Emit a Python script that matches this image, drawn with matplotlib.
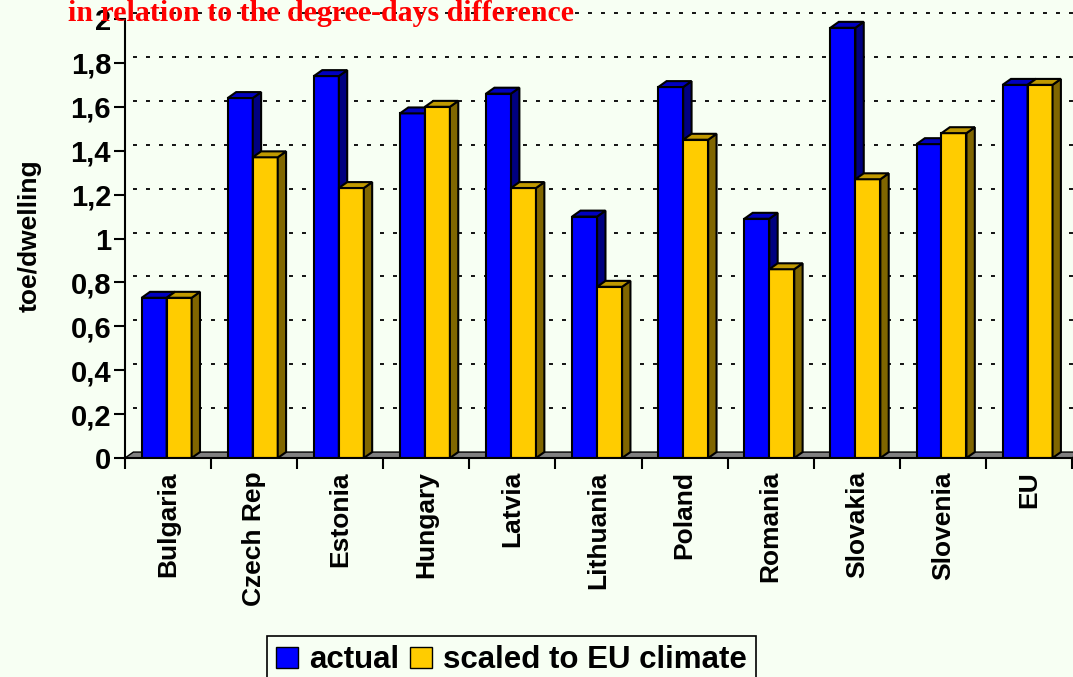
import matplotlib
matplotlib.use("Agg")
import matplotlib.pyplot as plt
from matplotlib.patches import Polygon, Patch

# --- datos ---
paises = ["Bulgaria", "Czech Rep", "Estonia", "Hungary", "Latvia", "Lithuania",
          "Poland", "Romania", "Slovakia", "Slovenia", "EU"]
actual = [0.73, 1.64, 1.74, 1.57, 1.66, 1.10, 1.69, 1.09, 1.96, 1.43, 1.70]
escalado = [0.73, 1.37, 1.23, 1.60, 1.23, 0.78, 1.45, 0.86, 1.27, 1.48, 1.70]
yticks = [0, 0.2, 0.4, 0.6, 0.8, 1.0, 1.2, 1.4, 1.6, 1.8, 2.0]
ytick_labels = ["0", "0,2", "0,4", "0,6", "0,8", "1", "1,2", "1,4", "1,6", "1,8", "2"]

fondo = "#F7FFF3"
W, H = 1073, 677
fig = plt.figure(figsize=(W / 100, H / 100), dpi=100, facecolor=fondo)
ax = fig.add_axes([125 / W, 1 - 458 / H, 947 / W, 439 / H])
ax.set_facecolor(fondo)
ax.set_xlim(0, len(paises))
ax.set_ylim(0, 2)

# profundidad del efecto 3D (en unidades de datos)
dx = 0.097
dy = 0.027
ancho = 0.29
x_azul = 0.194

# suelo gris
suelo = Polygon([(0, 0), (len(paises), 0), (len(paises) + dx, dy), (dx, dy)],
                closed=True, facecolor="#808080", edgecolor="black", lw=1.0,
                zorder=1, clip_on=False)
ax.add_patch(suelo)

# rejilla punteada en la pared del fondo
for v in yticks[1:]:
    ax.plot([dx, len(paises) + dx], [v + dy, v + dy], color="black", lw=1.3,
            linestyle=(0, (2.2, 5.0)), zorder=0.5, clip_on=False)


def barra3d(x0, h, c_frente, c_lado, c_techo):
    ax.bar(x0, h, width=ancho, align="edge", color=c_frente, edgecolor="black",
           lw=1.5, zorder=3)
    lado = Polygon([(x0 + ancho, 0), (x0 + ancho + dx, dy), (x0 + ancho + dx, h + dy),
                    (x0 + ancho, h)], closed=True, facecolor=c_lado,
                   edgecolor="black", lw=1.5, zorder=3, clip_on=False)
    techo = Polygon([(x0, h), (x0 + dx, h + dy), (x0 + ancho + dx, h + dy),
                     (x0 + ancho, h)], closed=True, facecolor=c_techo,
                    edgecolor="black", lw=1.5, zorder=3, clip_on=False)
    ax.add_patch(lado)
    ax.add_patch(techo)


for i in range(len(paises)):
    barra3d(i + x_azul, actual[i], "#0000FF", "#000080", "#0000C0")
    barra3d(i + x_azul + ancho, escalado[i], "#FFCC00", "#806600", "#C09900")

# ejes
for s in ["top", "right"]:
    ax.spines[s].set_visible(False)
ax.spines["left"].set_linewidth(1.5)
ax.spines["bottom"].set_linewidth(1.5)
ax.spines["left"].set_zorder(4)
ax.spines["bottom"].set_zorder(4)

ax.set_yticks(yticks)
ax.set_yticklabels(ytick_labels, fontsize=21, fontweight="bold", family="Liberation Sans")
ax.tick_params(axis="y", length=8, width=1.5, pad=2)

ax.set_xticks(range(len(paises) + 1))
ax.set_xticklabels([])
ax.tick_params(axis="x", length=8, width=1.5)
for i, p in enumerate(paises):
    ax.text(i + 0.5, -0.06, p, rotation=90, ha="center", va="top", fontsize=19,
            fontweight="bold", family="Liberation Sans")

fig.text(30 / W, 1 - 236 / H, "toe/dwelling", rotation=90, ha="center", va="center",
         fontsize=19, fontweight="bold", family="Liberation Sans")

fig.text(68 / W, 1 - 21 / H, "in relation to the degree-days difference", color="red",
         fontsize=21.5, fontweight="bold", family="Liberation Serif", va="baseline")

handles = [Patch(facecolor="#0000FF", edgecolor="black", label="actual"),
           Patch(facecolor="#FFCC00", edgecolor="black", label="scaled to EU climate")]
leg = fig.legend(handles=handles, ncol=2, loc="upper left",
                 bbox_to_anchor=(267 / W, 1 - 636 / H), frameon=True, fancybox=False,
                 edgecolor="black", facecolor=fondo, framealpha=1,
                 prop={"family": "Liberation Sans", "weight": "bold", "size": 22.5},
                 handlelength=0.7, handleheight=0.7, handletextpad=0.35,
                 columnspacing=0.35, borderpad=0.3, borderaxespad=0)
leg.get_frame().set_linewidth(1.2)

fig.savefig("out.png", dpi=100, facecolor=fondo)
